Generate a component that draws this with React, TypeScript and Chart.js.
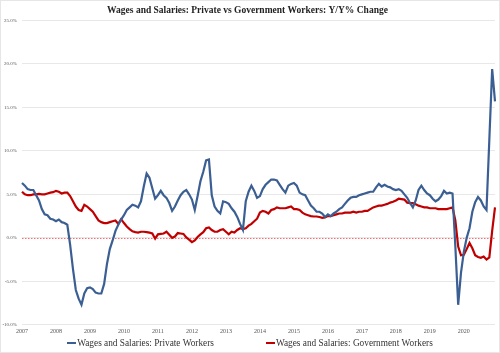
import React, { useEffect, useRef } from "react";
import { Chart, registerables } from "chart.js";

Chart.register(...registerables);

const TITLE = "Wages and Salaries: Private vs Government Workers: Y/Y% Change";
const SERIES_NAMES = ["Wages and Salaries: Private Workers", "Wages and Salaries: Government Workers"];
const SERIES_COLORS = ["#3b5f93", "#c00000"];
const START_YEAR = 2007;
const MONTH_COUNT = 168;
const Y_TICKS = [-10, -5, 0, 5, 10, 15, 20, 25];

const PRIVATE = [
  6.3, 6.0, 5.6, 5.5, 5.5, 4.9, 4.3, 3.3, 2.7, 2.6, 2.2, 2.1,
  1.9, 2.1, 1.8, 1.7, 1.5, -0.8, -3.6, -6.0, -7.0, -7.7, -6.4, -5.8,
  -5.7, -5.9, -6.3, -6.4, -6.4, -5.3, -3.0, -1.3, -0.3, 0.8, 1.5, 2.1,
  2.6, 3.2, 3.5, 3.8, 3.7, 3.5, 4.2, 5.9, 7.4, 6.9, 5.7, 4.5,
  4.9, 5.4, 4.9, 4.6, 4.0, 3.1, 3.6, 4.3, 4.9, 5.3, 5.5, 5.0,
  4.4, 3.2, 4.8, 6.5, 7.6, 8.9, 9.0, 4.9, 3.6, 3.1, 2.8, 4.2,
  4.1, 3.9, 3.4, 3.0, 2.4, 1.6, 0.9, 4.2, 5.3, 6.0, 5.4, 4.6,
  4.8, 5.6, 6.1, 6.4, 6.7, 6.7, 6.6, 6.1, 5.6, 5.2, 6.0, 6.2,
  6.3, 6.0, 5.2, 5.0, 4.9, 4.3, 3.7, 3.4, 3.0, 3.0, 2.8, 2.4,
  2.7, 2.5, 2.8, 3.0, 3.3, 3.5, 3.9, 4.3, 4.6, 4.7, 4.7, 4.9,
  5.0, 5.1, 5.2, 5.3, 5.3, 5.8, 6.2, 5.9, 6.1, 5.9, 5.8, 5.6,
  5.5, 5.6, 5.4, 5.0, 4.6, 4.0, 3.5, 4.3, 5.5, 6.0, 5.5, 5.1,
  4.9, 4.5, 4.2, 4.4, 4.8, 5.4, 5.1, 5.2, 5.1, -1.0, -7.7, -4.0,
  -1.6, 0.0, 1.1, 3.0, 4.1, 4.7, 4.3, 3.6, 3.2, 11.3, 19.4, 15.7,
];

const GOVERNMENT = [
  5.3, 5.0, 4.9, 4.9, 5.0, 5.0, 5.05, 5.0, 5.0, 5.1, 5.2, 5.25,
  5.4, 5.3, 5.1, 5.2, 5.2, 4.8, 4.2, 3.6, 3.2, 3.1, 3.8, 3.6,
  3.3, 3.0, 2.5, 2.0, 1.8, 1.7, 1.7, 1.8, 1.9, 2.0, 1.6, 2.15,
  1.7, 1.3, 1.0, 0.75, 0.65, 0.6, 0.7, 0.7, 0.65, 0.6, 0.5, -0.1,
  0.4, 0.45, 0.5, 0.7, 0.35, 0.0, 0.15, 0.55, 0.5, 0.45, 0.05, -0.2,
  -0.5, -0.3, 0.1, 0.4, 0.65, 1.1, 1.2, 0.9, 0.7, 0.7, 0.9, 1.0,
  0.7, 0.4, 0.7, 0.6, 0.9, 1.1, 1.0, 1.1, 1.4, 1.6, 1.9, 2.2,
  2.9, 3.1, 3.0, 2.8, 3.2, 3.3, 3.5, 3.4, 3.4, 3.4, 3.5, 3.6,
  3.3, 3.3, 3.2, 2.9, 2.7, 2.6, 2.5, 2.45, 2.45, 2.4, 2.3, 2.35,
  2.5, 2.5, 2.6, 2.7, 2.8, 2.8, 2.9, 2.9, 2.9, 3.0, 2.9, 3.0,
  3.0, 3.1, 3.1, 3.3, 3.5, 3.6, 3.7, 3.7, 3.8, 3.9, 4.05, 4.15,
  4.3, 4.5, 4.45, 4.4, 4.05, 4.0, 4.0, 3.85, 3.7, 3.6, 3.5, 3.5,
  3.4, 3.4, 3.4, 3.3, 3.3, 3.3, 3.3, 3.4, 3.5, 2.0, -1.0, -2.0,
  -1.95, -1.3, -0.6, -1.2, -2.0, -2.2, -2.3, -2.15, -2.5, -2.25, 0.8, 3.5,
];

const MONTH_LABELS = Array.from({ length: MONTH_COUNT }, (_, i) => {
  const y = START_YEAR + Math.floor(i / 12);
  const m = (i % 12) + 1;
  return `${y}-${m < 10 ? "0" + m : m}`;
});

const zeroLinePlugin = {
  id: "zeroLine",
  beforeDatasetsDraw(chart: any) {
    const { ctx, chartArea, scales } = chart;
    const y = scales.y.getPixelForValue(0);
    ctx.save();
    ctx.strokeStyle = "#ff6a6a";
    ctx.lineWidth = 1;
    ctx.setLineDash([1.5, 1.5]);
    ctx.beginPath();
    ctx.moveTo(chartArea.left, Math.round(y) + 0.5);
    ctx.lineTo(chartArea.right, Math.round(y) + 0.5);
    ctx.stroke();
    ctx.restore();
  },
};

export default function App() {
  const ref = useRef<HTMLCanvasElement | null>(null);

  useEffect(() => {
    document.body.style.margin = "0";
    if (!ref.current) return;
    const chart = new Chart(ref.current, {
      type: "line",
      data: {
        labels: MONTH_LABELS,
        datasets: [
          {
            label: SERIES_NAMES[0],
            data: PRIVATE,
            borderColor: SERIES_COLORS[0],
            backgroundColor: SERIES_COLORS[0],
            borderWidth: 2.2,
            pointRadius: 0,
            tension: 0,
          },
          {
            label: SERIES_NAMES[1],
            data: GOVERNMENT,
            borderColor: SERIES_COLORS[1],
            backgroundColor: SERIES_COLORS[1],
            borderWidth: 2.2,
            pointRadius: 0,
            tension: 0,
          },
        ],
      },
      options: {
        animation: false,
        responsive: false,
        maintainAspectRatio: false,
        layout: { padding: { left: 0, right: 5, top: 0, bottom: 15 } },
        plugins: {
          title: {
            display: true,
            text: TITLE,
            color: "#222",
            font: { family: "Liberation Serif", size: 9.5, weight: "bold" },
            padding: { top: 5, bottom: 4 },
          },
          legend: { display: false },
          tooltip: { enabled: false },
        },
        scales: {
          x: {
            type: "category",
            offset: false,
            grid: { display: false, drawTicks: false },
            border: { display: false },
            ticks: {
              display: true,
              autoSkip: false,
              maxRotation: 0,
              minRotation: 0,
              padding: 3,
              color: "#555",
              font: { family: "Liberation Serif", size: 6 },
              callback: (_v: any, i: number) => (i % 12 === 0 ? String(START_YEAR + i / 12) : null),
            },
          },
          y: {
            min: -10,
            max: 25,
            afterBuildTicks: (scale: any) => {
              scale.ticks = Y_TICKS.map((v) => ({ value: v }));
            },
            afterFit: (scale: any) => {
              scale.width = 22;
            },
            grid: { color: "#e8e8e8", lineWidth: 1, drawTicks: false },
            border: { display: false },
            ticks: {
              padding: 5,
              color: "#555",
              font: { family: "Liberation Serif", size: 5 },
              callback: (v: any) => `${Number(v).toFixed(1)}%`,
            },
          },
        },
      },
      plugins: [zeroLinePlugin],
    });
    return () => chart.destroy();
  }, []);

  return (
    <div style={{ position: "relative", width: 500, height: 353, background: "#fff" }}>
      <canvas ref={ref} width={500} height={353} style={{ display: "block" }} />
      <div
        style={{
          position: "absolute",
          left: 0,
          right: 0,
          top: 337,
          display: "flex",
          justifyContent: "center",
          gap: 52,
          fontFamily: "Liberation Serif",
          fontSize: 9.3,
          lineHeight: "12px",
          color: "#333",
        }}
      >
        {SERIES_NAMES.map((name, i) => (
          <div key={name} style={{ display: "flex", alignItems: "center" }}>
            <span style={{ display: "inline-block", width: 9, height: 2, background: SERIES_COLORS[i], marginRight: 1 }} />
            <span>{name}</span>
          </div>
        ))}
      </div>
      <div style={{ position: "absolute", inset: 0, border: "1px solid #e6e6e6", pointerEvents: "none" }} />
    </div>
  );
}
